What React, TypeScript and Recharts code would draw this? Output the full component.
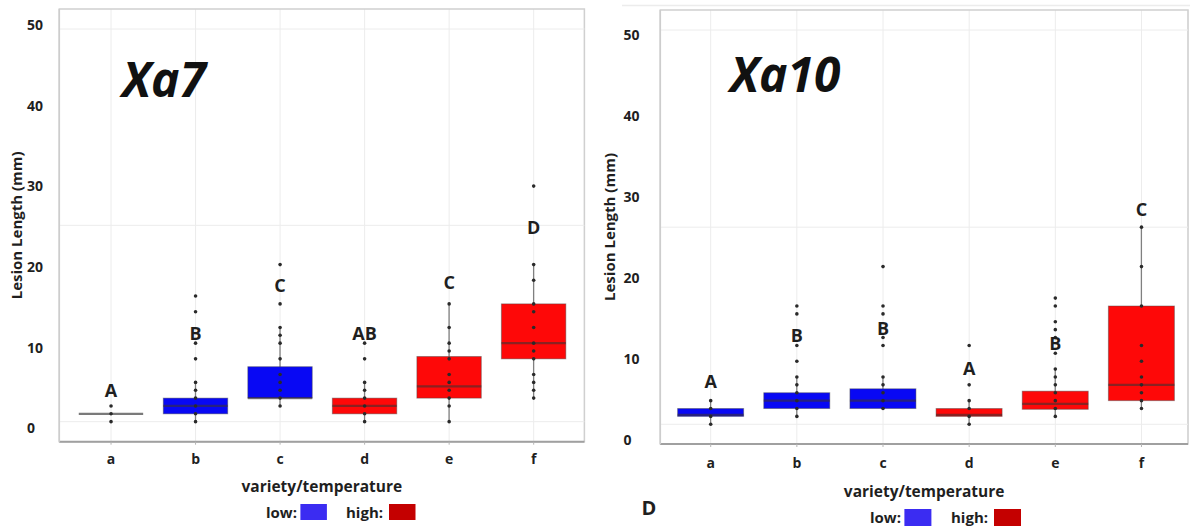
import React from 'react';
import { Bar, CartesianGrid, ComposedChart, ReferenceArea, ReferenceLine, Scatter, XAxis, YAxis } from 'recharts';

const FONT = '"Open Sans", "Noto Sans", sans-serif';
const INK = '#1f1f1f';

// shared
const categories = ['a', 'b', 'c', 'd', 'e', 'f'];
const temperature = ['low', 'low', 'low', 'high', 'high', 'high'];
const yTicks = [0, 10, 20, 30, 40, 50];
const gridValues = [0, 25, 50];
const boxColors: Record<string, string> = { low: '#0808f4', high: '#fe0808' };
const legendItems = [
  { label: 'low:', color: '#3b2cf2' },
  { label: 'high:', color: '#c40000' },
];

// Xa7 panel
const xa7Q1 = [1, 1, 3, 1, 3, 8];
const xa7Median = [1, 2, 3, 2, 4.5, 10];
const xa7Q3 = [1, 3, 7, 3, 8.3, 15];
const xa7WhiskerLow = [1, 0, 2, 0, 0, 3];
const xa7WhiskerHigh = [1, 5, 12, 5, 15, 20];
const xa7Points = [
  [0, 1, 2],
  [0, 1, 2, 3, 4, 5, 8, 10, 14, 16],
  [2, 3, 4, 5, 6, 8, 10, 11, 12, 15, 20],
  [0, 1, 2, 3, 4, 5, 8, 10],
  [0, 2, 3, 4, 5, 6, 8, 9, 10, 12, 15],
  [3, 4, 5, 6, 8, 9, 10, 12, 14, 15, 18, 20, 30],
];
const xa7Letters = ['A', 'B', 'C', 'AB', 'C', 'D'];
const xa7LetterAt = [4.0, 11.2, 17.4, 11.2, 17.7, 24.7];

// Xa10 panel
const xa10Q1 = [1, 2, 2, 1, 1.9, 3];
const xa10Median = [1.2, 3, 3, 1.2, 2.6, 5];
const xa10Q3 = [2, 4, 4.5, 2, 4.2, 15];
const xa10WhiskerLow = [0, 1, 2, 0, 1, 2];
const xa10WhiskerHigh = [3, 6, 6, 3, 7, 25];
const xa10Points = [
  [0, 1, 2, 3],
  [1, 2, 3, 4, 5, 6, 8, 10, 14, 15],
  [2, 3, 4, 5, 6, 10, 11, 14, 15, 20],
  [0, 1, 2, 3, 5, 10],
  [1, 2, 3, 4, 5, 6, 7, 9, 11, 12, 13, 15, 16],
  [2, 3, 4, 5, 6, 8, 10, 15, 20, 25],
];
const xa10Letters = ['A', 'B', 'B', 'A', 'B', 'C'];
const xa10LetterAt = [5.4, 11.3, 12.2, 7.1, 10.3, 27.2];

const buildRows = (q1: number[], med: number[], q3: number[], wlo: number[], whi: number[], pts: number[][]) =>
  categories.map((name, i) => ({
    x: i + 1,
    name,
    q1: q1[i],
    median: med[i],
    q3: q3[i],
    whiskerLow: wlo[i],
    whiskerHigh: whi[i],
    group: temperature[i],
    span: [Math.min(...pts[i], wlo[i], q1[i]), Math.max(...pts[i], whi[i], q3[i])],
  }));

const buildPoints = (pts: number[][]) => pts.flatMap((arr, i) => arr.map((v) => ({ x: i + 1, y: v })));
const buildLetters = (txt: string[], at: number[]) => txt.map((t, i) => ({ x: i + 1, y: at[i], text: t }));

const BoxShape = (props: any) => {
  const { x, y, width, height, payload } = props;
  const [lo, hi] = payload.span;
  const top = Math.min(y, y + height);
  const h = Math.abs(height);
  const k = hi > lo ? h / (hi - lo) : 0;
  const py = (v: number) => top + (hi - v) * k;
  const cx = x + width / 2;
  const hasBox = payload.q3 > payload.q1;
  return (
    <g>
      <line x1={cx} x2={cx} y1={py(payload.whiskerHigh)} y2={py(payload.whiskerLow)} stroke="#808080" strokeWidth={1.3} />
      {hasBox && (
        <rect
          x={x}
          y={py(payload.q3)}
          width={width}
          height={py(payload.q1) - py(payload.q3)}
          fill={boxColors[payload.group]}
          stroke="rgba(70,70,70,0.45)"
          strokeWidth={1}
        />
      )}
      <line
        x1={x}
        x2={x + width}
        y1={py(payload.median)}
        y2={py(payload.median)}
        stroke={hasBox ? 'rgba(60,50,50,0.6)' : '#7a7a7a'}
        strokeWidth={2.2}
      />
    </g>
  );
};

const PointShape = (props: any) => <circle cx={props.cx} cy={props.cy} r={1.8} fill="#2a2a2a" />;

const LetterShape = (props: any) => (
  <text x={props.cx} y={props.cy} dy="0.36em" textAnchor="middle" fontSize={18} fontWeight={700} fill={INK} fontFamily={FONT}>
    {props.payload.text}
  </text>
);

interface PanelProps {
  rows: ReturnType<typeof buildRows>;
  points: { x: number; y: number }[];
  letters: { x: number; y: number; text: string }[];
  width: number;
  height: number;
  margin: { top: number; right: number; bottom: number; left: number };
  yAxisWidth: number;
  xDomain: [number, number];
  yDomain: [number, number];
  labelDomain: [number, number];
  barSize: number;
  xTickMargin: number;
  xTitleOffset: number;
  yTitleOffset: number;
  yTickMargin: number;
}

const BoxPanel = (p: PanelProps) => (
  <ComposedChart width={p.width} height={p.height} data={p.rows} margin={p.margin}>
    <CartesianGrid horizontal={false} stroke="#ececec" />
    {gridValues.map((v) => (
      <ReferenceLine key={v} y={v} stroke="#ececec" />
    ))}
    <ReferenceArea
      x1={p.xDomain[0]}
      x2={p.xDomain[1]}
      y1={p.yDomain[0]}
      y2={p.yDomain[1]}
      fill="none"
      fillOpacity={0}
      stroke="#d0d0d0"
      strokeWidth={1.5}
      ifOverflow="visible"
    />
    <XAxis
      dataKey="x"
      type="number"
      domain={p.xDomain}
      allowDataOverflow
      ticks={[1, 2, 3, 4, 5, 6]}
      tickFormatter={(v: number) => categories[v - 1]}
      height={60}
      tickSize={3}
      tickMargin={p.xTickMargin}
      tickLine={{ stroke: '#b5b5b5' }}
      axisLine={{ stroke: '#a0a0a0', strokeWidth: 2 }}
      tick={{ fontSize: 14, fontWeight: 700, fill: INK, fontFamily: FONT }}
      label={{
        value: 'variety/temperature',
        position: 'insideBottom',
        offset: p.xTitleOffset,
        style: { fontSize: 15.5, fontWeight: 700, fill: INK, fontFamily: FONT },
      }}
    />
    <YAxis
      yAxisId="lab"
      type="number"
      domain={p.labelDomain}
      allowDataOverflow
      ticks={yTicks}
      width={p.yAxisWidth}
      tickSize={0}
      tickMargin={p.yTickMargin}
      tickLine={false}
      axisLine={{ stroke: '#cdcdcd', strokeWidth: 1.5 }}
      tick={{ fontSize: 14, fontWeight: 700, fill: INK, fontFamily: FONT, textAnchor: 'start' }}
      label={{
        value: 'Lesion Length (mm)',
        angle: -90,
        position: 'insideLeft',
        offset: p.yTitleOffset,
        style: { textAnchor: 'middle', fontSize: 15, fontWeight: 700, fill: INK, fontFamily: FONT },
      }}
    />
    <YAxis type="number" domain={p.yDomain} allowDataOverflow hide width={0} />
    <Bar dataKey="span" barSize={p.barSize} shape={BoxShape} isAnimationActive={false} />
    <Scatter data={p.points} dataKey="y" shape={PointShape} isAnimationActive={false} />
    <Scatter data={p.letters} dataKey="y" shape={LetterShape} isAnimationActive={false} />
  </ComposedChart>
);

const LegendRow = ({ x, y, gap, swatchW, swatchH }: { x: number; y: number; gap: number[]; swatchW: number; swatchH: number }) => (
  <g fontFamily={FONT} fontSize={15} fontWeight={700} fill={INK}>
    {legendItems.map((it, i) => (
      <g key={it.label} transform={`translate(${x + gap[i]}, ${y})`}>
        <text x={0} y={0}>{it.label}</text>
        <rect x={it.label.length * 8.6} y={-14} width={swatchW} height={swatchH} fill={it.color} />
      </g>
    ))}
  </g>
);

export default function App() {
  return (
    <div style={{ position: 'absolute', left: 0, top: 0, width: 1190, height: 527, background: '#fff', fontFamily: FONT, overflow: 'hidden' }}>
      <div style={{ position: 'absolute', left: 0, top: 0 }}>
        <BoxPanel
          rows={buildRows(xa7Q1, xa7Median, xa7Q3, xa7WhiskerLow, xa7WhiskerHigh, xa7Points)}
          points={buildPoints(xa7Points)}
          letters={buildLetters(xa7Letters, xa7LetterAt)}
          width={600}
          height={527}
          margin={{ top: 9, right: 15.6, bottom: 25.3, left: 0 }}
          yAxisWidth={59.3}
          xDomain={[0.388, 6.6]}
          yDomain={[-2.55, 52.55]}
          labelDomain={[-1.66, 52.02]}
          barSize={64.4}
          xTickMargin={9}
          xTitleOffset={10}
          yTitleOffset={17}
          yTickMargin={32.3}
        />
      </div>
      <div style={{ position: 'absolute', left: 595, top: 0 }}>
        <BoxPanel
          rows={buildRows(xa10Q1, xa10Median, xa10Q3, xa10WhiskerLow, xa10WhiskerHigh, xa10Points)}
          points={buildPoints(xa10Points)}
          letters={buildLetters(xa10Letters, xa10LetterAt)}
          width={595}
          height={527}
          margin={{ top: 10, right: 2, bottom: 23, left: 0 }}
          yAxisWidth={65.3}
          xDomain={[0.415, 6.54]}
          yDomain={[-2.5, 52.54]}
          labelDomain={[-0.49, 53.09]}
          barSize={66}
          xTickMargin={11}
          xTitleOffset={7.5}
          yTitleOffset={15}
          yTickMargin={36.8}
        />
      </div>
      <svg width={1190} height={527} style={{ position: 'absolute', left: 0, top: 0, pointerEvents: 'none' }}>
        <line x1={622} x2={1190} y1={5.5} y2={5.5} stroke="#ececec" strokeWidth={1.5} />
        <text x={122} y={96.5} fontFamily={FONT} fontSize={48} fontWeight={700} fontStyle="italic" fill="#111">Xa7</text>
        <text x={730} y={92} fontFamily={FONT} fontSize={48} fontWeight={700} fontStyle="italic" fill="#111">Xa10</text>
        <text x={641.5} y={515} fontFamily={FONT} fontSize={20} fontWeight={700} fill={INK}>D</text>
        <LegendRow x={266} y={518} gap={[0, 80]} swatchW={26.5} swatchH={16} />
        <LegendRow x={870} y={523} gap={[0, 81]} swatchW={27} swatchH={17} />
      </svg>
    </div>
  );
}
